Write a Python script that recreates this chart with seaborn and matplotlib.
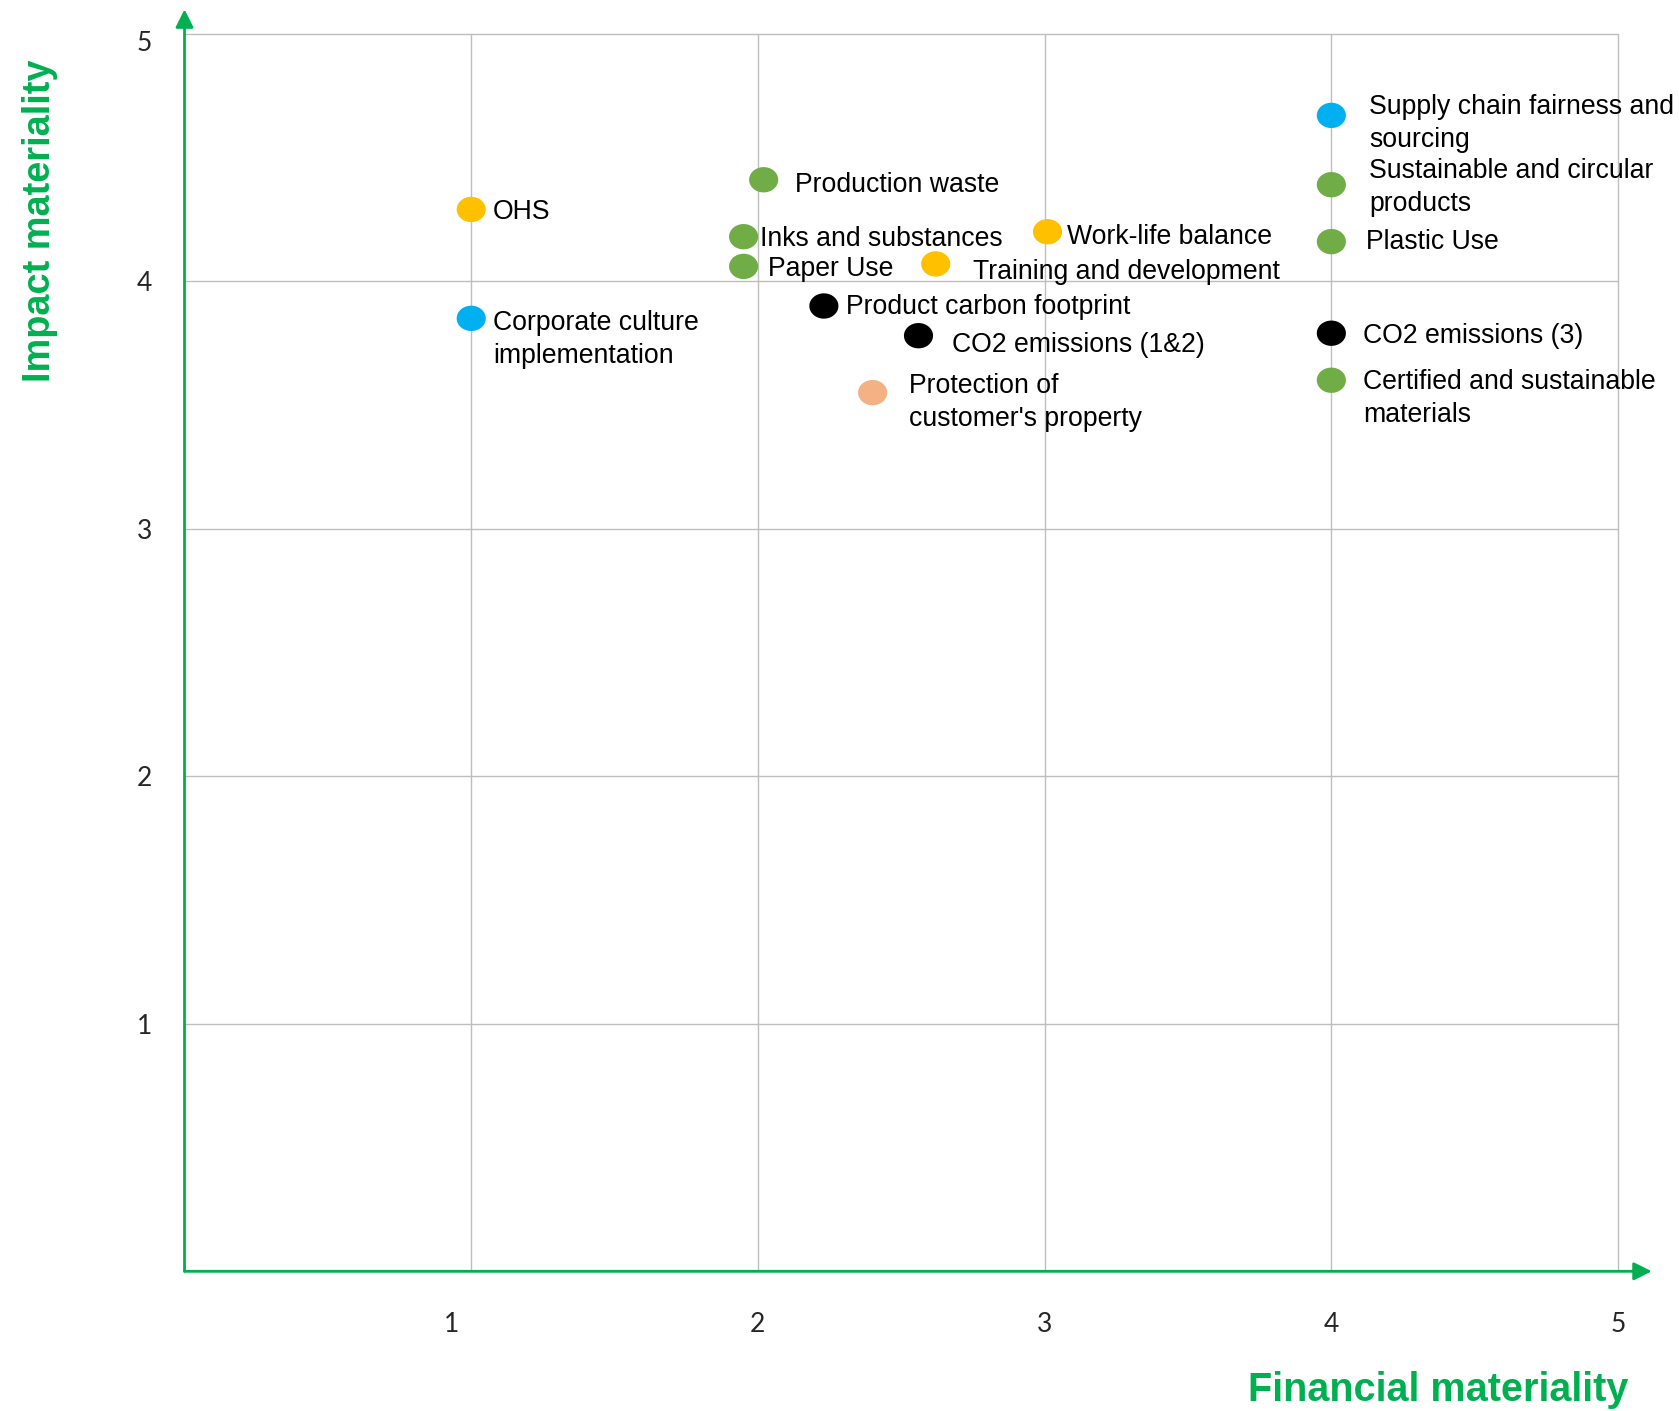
import numpy as np
import pandas as pd
import seaborn as sns
import matplotlib.pyplot as plt
import matplotlib.transforms as mtransforms

# topics on the materiality matrix
topics = ["OHS", "Corporate culture\nimplementation", "Production waste",
          "Inks and substances", "Paper Use", "Training and development",
          "Work-life balance", "Product carbon footprint", "CO2 emissions (1&2)",
          "Protection of\ncustomer's property", "Supply chain fairness and\nsourcing",
          "Sustainable and circular\nproducts", "Plastic Use", "CO2 emissions (3)",
          "Certified and sustainable\nmaterials"]
financial = [1.00, 1.00, 2.02, 1.95, 1.95, 2.62, 3.01, 2.23, 2.56, 2.40,
             4.00, 4.00, 4.00, 4.00, 4.00]
impact = [4.29, 3.85, 4.41, 4.18, 4.06, 4.07, 4.20, 3.90, 3.78, 3.55,
          4.67, 4.39, 4.16, 3.79, 3.60]
group = ["Employees", "Governance", "Environment", "Environment", "Environment",
         "Employees", "Employees", "Climate", "Climate", "Customers",
         "Governance", "Environment", "Environment", "Climate", "Environment"]
ticks = [1, 2, 3, 4, 5]

df = pd.DataFrame({"topic": topics, "financial": financial,
                   "impact": impact, "group": group})

palette = {"Environment": "#70AD47", "Employees": "#FFC000",
           "Governance": "#00B0F0", "Climate": "#000000",
           "Customers": "#F4B183"}
green = "#00B050"

# label offsets from the dot, in pixels (dx, dy up)
label_offsets = {
    "OHS": (22, -3), "Corporate culture\nimplementation": (22, -21),
    "Production waste": (31, -5), "Inks and substances": (16, -2),
    "Paper Use": (24, -3), "Training and development": (37, -8),
    "Work-life balance": (19, -5), "Product carbon footprint": (22, -1),
    "CO2 emissions (1&2)": (34, -9), "Protection of\ncustomer's property": (36, -10),
    "Supply chain fairness and\nsourcing": (38, -8),
    "Sustainable and circular\nproducts": (38, -3), "Plastic Use": (35, 0),
    "CO2 emissions (3)": (32, -3), "Certified and sustainable\nmaterials": (32, -18),
}

sns.set_style("white")
plt.rcParams["font.family"] = ["Liberation Sans", "DejaVu Sans"]

fig = plt.figure(figsize=(16.79, 14.11), dpi=100)
ax = fig.add_axes([0.1099, 0.0990, 0.8538, 0.8771])

# slightly elliptical dots like the original
t = np.linspace(0, 2 * np.pi, 60)
ellipse = np.column_stack([1.15 * np.cos(t), np.sin(t)])

sns.scatterplot(data=df, x="financial", y="impact", hue="group", palette=palette,
                marker=ellipse, s=440, linewidth=0, legend=False, ax=ax, zorder=3)

for _, row in df.iterrows():
    dx, dy = label_offsets[row["topic"]]
    ax.annotate(row["topic"], (row["financial"], row["impact"]),
                xytext=(dx, dy), textcoords="offset pixels",
                ha="left", va="center", fontsize=19.2, color="black",
                linespacing=1.37, zorder=4)

ax.set_xlim(0, 5)
ax.set_ylim(0, 5)
ax.set_xticks(ticks)
ax.set_yticks(ticks)
ax.set_xticklabels(ticks, fontsize=19, family="Lato")
ax.set_yticklabels(ticks, fontsize=19, family="Lato")
ax.tick_params(axis="x", length=0, pad=29.5)
ax.tick_params(axis="y", length=0, pad=23.5)
ax.grid(True, color="#BEBEBE", linewidth=1.0)
for line in ax.get_xgridlines() + ax.get_ygridlines():
    line.set_clip_on(False)
for side in ["top", "right", "left", "bottom"]:
    ax.spines[side].set_visible(False)
ax.set_xlabel("")
ax.set_ylabel("")

# Excel put the "1" a little left of its gridline and the top "5" a little low
lab1 = ax.get_xticklabels()[0]
lab1.set_transform(lab1.get_transform()
                   + mtransforms.ScaledTranslation(-0.2, 0, fig.dpi_scale_trans))
lab5 = ax.get_yticklabels()[-1]
lab5.set_transform(lab5.get_transform()
                   + mtransforms.ScaledTranslation(0, -0.075, fig.dpi_scale_trans))

# green axes with arrow heads
arrow = dict(arrowstyle="-|>,head_length=0.6,head_width=0.3", color=green,
             lw=2, mutation_scale=18, shrinkA=0, shrinkB=0)
ax.annotate("", xy=(1.0235, 0), xytext=(0, 0), xycoords="axes fraction",
            arrowprops=arrow, annotation_clip=False)
ax.annotate("", xy=(0, 1.0197), xytext=(0, 0), xycoords="axes fraction",
            arrowprops=arrow, annotation_clip=False)

fig.text(0.9696, 0.0068, "Financial materiality", color=green, fontsize=28.5,
         fontweight="bold", ha="right", va="baseline")
fig.text(0.0297, 0.8436, "Impact materiality", color=green, fontsize=27.3,
         fontweight="bold", rotation=90, rotation_mode="anchor",
         ha="center", va="baseline")

fig.savefig("out.png", dpi=100)
